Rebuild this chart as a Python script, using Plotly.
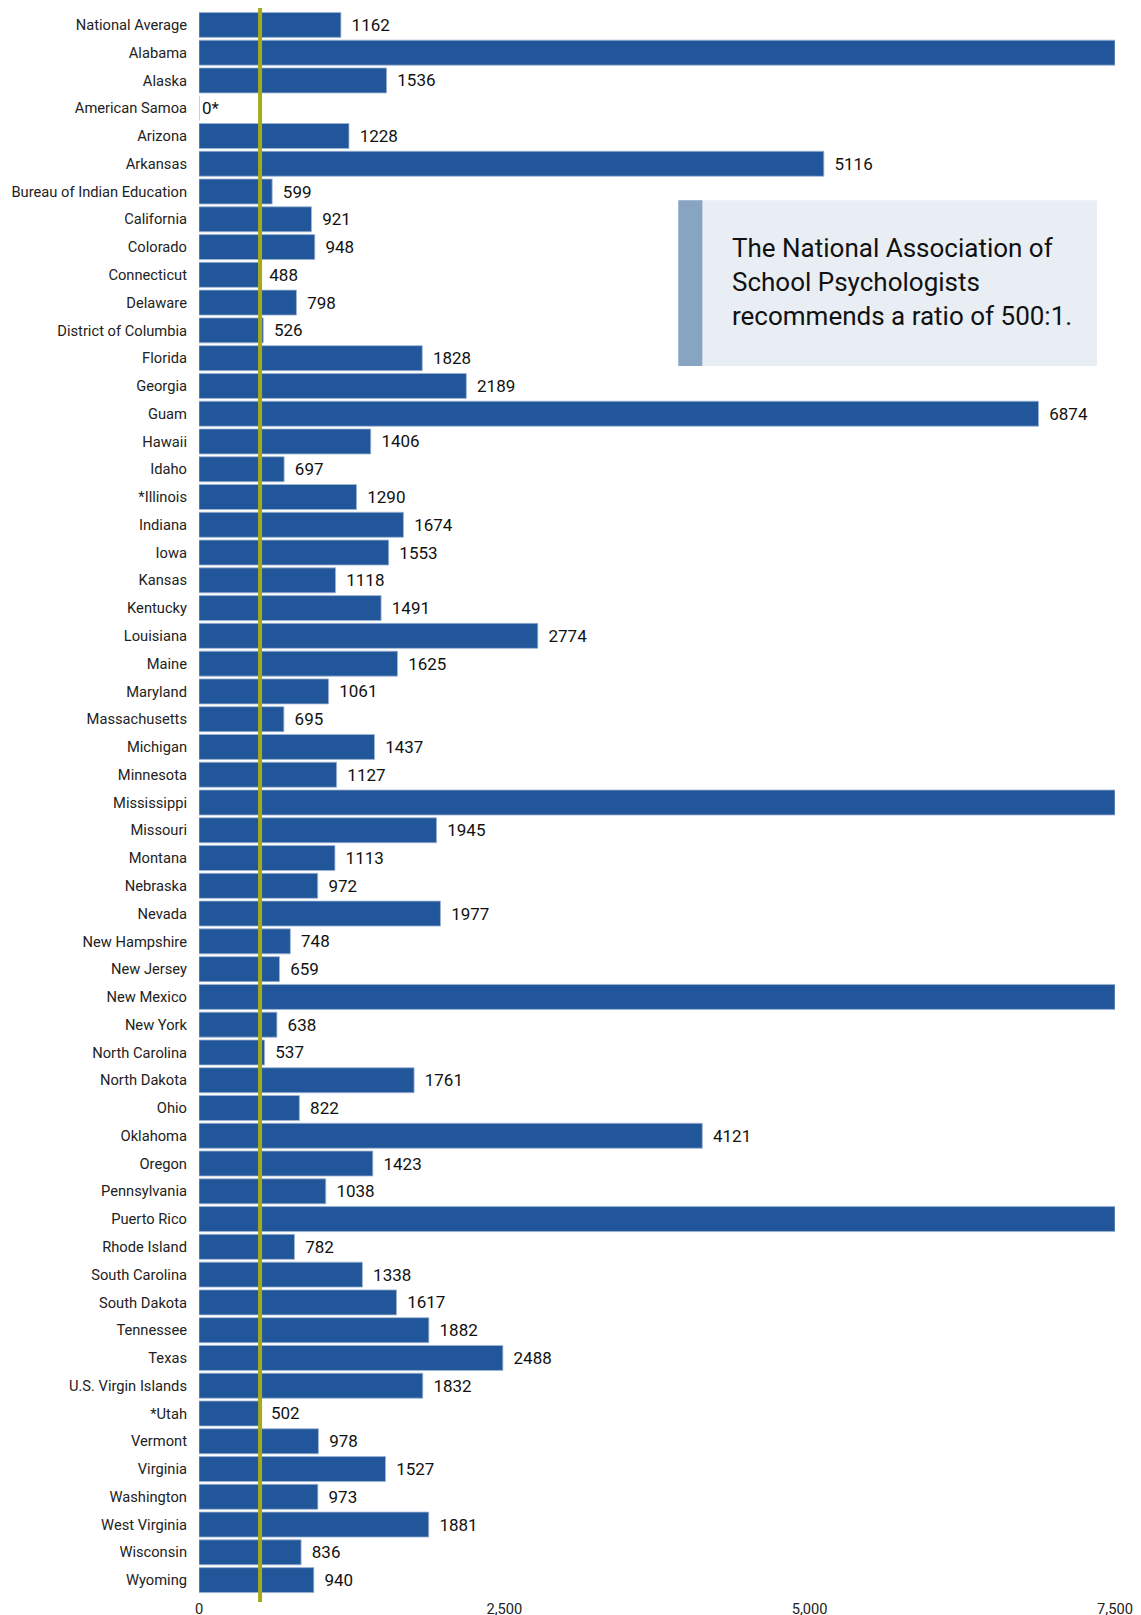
import plotly.graph_objects as go

categories = ["National Average", "Alabama", "Alaska", "American Samoa", "Arizona", "Arkansas",
              "Bureau of Indian Education", "California", "Colorado", "Connecticut", "Delaware",
              "District of Columbia", "Florida", "Georgia", "Guam", "Hawaii", "Idaho", "*Illinois",
              "Indiana", "Iowa", "Kansas", "Kentucky", "Louisiana", "Maine", "Maryland",
              "Massachusetts", "Michigan", "Minnesota", "Mississippi", "Missouri", "Montana",
              "Nebraska", "Nevada", "New Hampshire", "New Jersey", "New Mexico", "New York",
              "North Carolina", "North Dakota", "Ohio", "Oklahoma", "Oregon", "Pennsylvania",
              "Puerto Rico", "Rhode Island", "South Carolina", "South Dakota", "Tennessee", "Texas",
              "U.S. Virgin Islands", "*Utah", "Vermont", "Virginia", "Washington", "West Virginia",
              "Wisconsin", "Wyoming"]

# Bars for Alabama, Mississippi, New Mexico, Puerto Rico run off the chart (shown to the axis end)
ratios = [1162, 7500, 1536, 0, 1228, 5116, 599, 921, 948, 488, 798, 526, 1828, 2189, 6874, 1406,
          697, 1290, 1674, 1553, 1118, 1491, 2774, 1625, 1061, 695, 1437, 1127, 7500, 1945, 1113,
          972, 1977, 748, 659, 7500, 638, 537, 1761, 822, 4121, 1423, 1038, 7500, 782, 1338, 1617,
          1882, 2488, 1832, 502, 978, 1527, 973, 1881, 836, 940]

value_labels = ["1162", "", "1536", "0*", "1228", "5116", "599", "921", "948", "488", "798", "526",
                "1828", "2189", "6874", "1406", "697", "1290", "1674", "1553", "1118", "1491",
                "2774", "1625", "1061", "695", "1437", "1127", "", "1945", "1113", "972", "1977",
                "748", "659", "", "638", "537", "1761", "822", "4121", "1423", "1038", "", "782",
                "1338", "1617", "1882", "2488", "1832", "502", "978", "1527", "973", "1881", "836",
                "940"]

recommended = 500
x_ticks = [0, 2500, 5000, 7500]
note_text = "The National Association of<br>School Psychologists<br>recommends a ratio of 500:1."

FONT = "Roboto"


def pad(label, value):
    if not label:
        return ""
    return label if value == 0 else " \u2009" + label


fig = go.Figure()
fig.add_trace(go.Bar(
    y=categories, x=ratios, orientation="h",
    marker=dict(color="#21579a", line=dict(color="#9fb5d3", width=0.8)),
    text=[pad(t, v) for t, v in zip(value_labels, ratios)],
    textposition="outside", cliponaxis=True,
    textfont=dict(family=FONT, size=17, color="#111111"),
    hoverinfo="skip",
))

# recommended ratio line
fig.add_shape(type="line", xref="x", yref="paper", x0=recommended, x1=recommended,
              y0=-0.0051, y1=1.003, line=dict(color="#a5aa1c", width=4), layer="above")

# note box
fig.add_shape(type="rect", xref="paper", yref="paper", x0=0.5233, x1=0.9803, y0=0.7757, y1=0.8804,
              fillcolor="#e8eef3", line=dict(width=0), layer="above")
fig.add_shape(type="rect", xref="paper", yref="paper", x0=0.5233, x1=0.5495, y0=0.7757, y1=0.8804,
              fillcolor="#88a4c3", line=dict(width=0), layer="above")
fig.add_annotation(xref="paper", yref="paper", x=0.5797, y=0.8291, xanchor="left", yanchor="middle",
                   align="left", showarrow=False, text=note_text,
                   font=dict(family=FONT, size=26, color="#111111"))

fig.update_layout(
    width=1133, height=1615,
    margin=dict(l=191, r=26, t=2.6, b=29.1, autoexpand=False),
    plot_bgcolor="white", paper_bgcolor="white",
    bargap=0.1, showlegend=False,
    font=dict(family=FONT, color="#222222"),
)
fig.update_yaxes(categoryorder="array", categoryarray=categories, autorange="reversed",
                 showgrid=False, zeroline=False, showline=False, ticks="", automargin=False,
                 ticklabelstandoff=11, tickfont=dict(family=FONT, size=14.7, color="#222222"))
fig.update_xaxes(range=[0, 7500], tickvals=x_ticks, tickformat=",", showgrid=False,
                 zeroline=False, showline=False, ticks="", automargin=False,
                 ticklabelstandoff=4, tickfont=dict(family=FONT, size=14.7, color="#222222"))

fig.write_html("out.html")
